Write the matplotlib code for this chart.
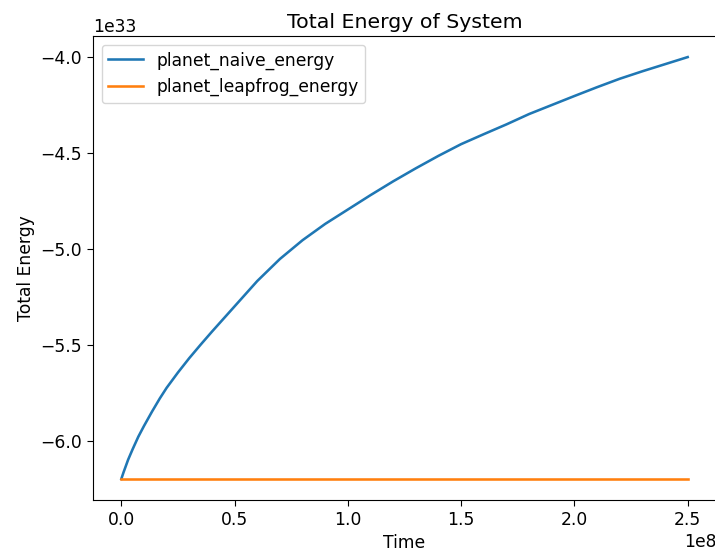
import matplotlib.pyplot as plt
import numpy as np

# time in units of 1e8, energy in units of 1e33
time = np.array([0.0, 0.01, 0.03, 0.05, 0.075, 0.1, 0.135, 0.17, 0.2, 0.25, 0.3, 0.35,
                 0.4, 0.5, 0.6, 0.7, 0.8, 0.9, 1.0, 1.1, 1.2, 1.3, 1.4, 1.5, 1.6,
                 1.7, 1.8, 1.9, 2.0, 2.1, 2.2, 2.3, 2.4, 2.5]) * 1e8
naive_energy = np.array([-6.2, -6.165, -6.10, -6.045, -5.98, -5.924, -5.85, -5.78, -5.725,
                         -5.645, -5.57, -5.50, -5.432, -5.30, -5.168, -5.053, -4.955,
                         -4.87, -4.795, -4.72, -4.648, -4.58, -4.515, -4.454,
                         -4.402, -4.351, -4.297, -4.25, -4.203, -4.157, -4.113,
                         -4.074, -4.037, -4.0]) * 1e33
leapfrog_energy = np.full(len(time), -6.2) * 1e33

plt.rcParams["font.size"] = 12.3
plt.rcParams["lines.linewidth"] = 1.85
plt.rcParams["xtick.major.size"] = 4.3
plt.rcParams["ytick.major.size"] = 4.3

fig = plt.figure(figsize=(7.15, 5.55), dpi=100)
ax = fig.add_axes([93 / 715, 55 / 555, 623 / 715, 464 / 555])
ax.plot(time, naive_energy, label="planet_naive_energy")
ax.plot(time, leapfrog_energy, label="planet_leapfrog_energy")
ax.set_xlabel("Time")
ax.set_ylabel("Total Energy")
ax.set_title("Total Energy of System")
ax.legend(loc="upper left")

fig.savefig("out.png", dpi=100)
